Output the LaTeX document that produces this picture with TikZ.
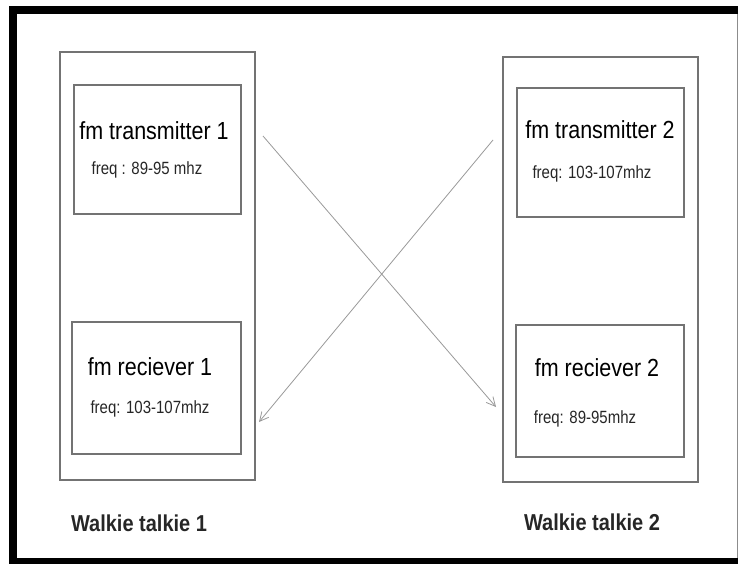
\documentclass[tikz,border=0pt]{standalone}
\usepackage{fontspec}
\setmainfont{Liberation Sans}
\usetikzlibrary{arrows.meta}
\begin{document}
\begin{tikzpicture}[x=1pt,y=-1pt,
  box/.style={draw=black!55, line width=1.6pt, inner sep=0pt, outer sep=0pt, anchor=north west},
  title/.style={font=\fontsize{21.5}{24}\selectfont, text=black, inner sep=0pt, yscale=1.15, transform shape},
  freq/.style={font=\fontsize{15}{17}\selectfont, text=black!85, inner sep=0pt, yscale=1.18, transform shape},
  wtlabel/.style={font=\bfseries\fontsize{20}{22}\selectfont, text=black!85, inner sep=0pt, yscale=1.15, transform shape},
  sig/.style={draw=black!40, line width=0.8pt, -{Straight Barb[length=9pt,width=9pt]}}]
\useasboundingbox (0,0) rectangle (738,564);
% frame
\fill[black] (9,6) rectangle (17,564);
\fill[black] (9,6) rectangle (738,14);
\fill[black] (9,558) rectangle (738,564);
\draw[black!45, line width=0.8pt] (737,14) -- (737,558);
% walkie talkie boxes
\node[box, minimum width=195pt, minimum height=428pt] (wt1) at (60,52) {};
\node[box, minimum width=195pt, minimum height=425pt] (wt2) at (503,57) {};
% inner boxes
\node[box, minimum width=167pt, minimum height=129pt] (t1) at (74,85) {};
\node[box, minimum width=169pt, minimum height=132pt] (r1) at (72,322) {};
\node[box, minimum width=167pt, minimum height=129pt] (t2) at (517,88) {};
\node[box, minimum width=168pt, minimum height=132pt] (r2) at (516,325) {};
% texts
\node[title] (t1title) at (154,131) {fm transmitter 1};
\node[freq] (t1freq) at (147,170) {freq : 89-95 mhz};
\node[title] (t2title) at (600,130) {fm transmitter 2};
\node[freq] (t2freq) at (592,174) {freq: 103-107mhz};
\node[title] (r1title) at (150,367) {fm reciever 1};
\node[freq] (r1freq) at (150,409) {freq: 103-107mhz};
\node[title] (r2title) at (597,368) {fm reciever 2};
\node[freq] (r2freq) at (585,419) {freq: 89-95mhz};
\node[wtlabel] (wt1label) at (139,523) {Walkie talkie 1};
\node[wtlabel] (wt2label) at (592,522) {Walkie talkie 2};
% signal arrows
\coordinate (a1s) at (263,136);
\coordinate (a1e) at (496,407);
\coordinate (a2s) at (493,140);
\coordinate (a2e) at (259,422);
\draw[sig] (a1s) -- (a1e);
\draw[sig] (a2s) -- (a2e);
\end{tikzpicture}
\end{document}
